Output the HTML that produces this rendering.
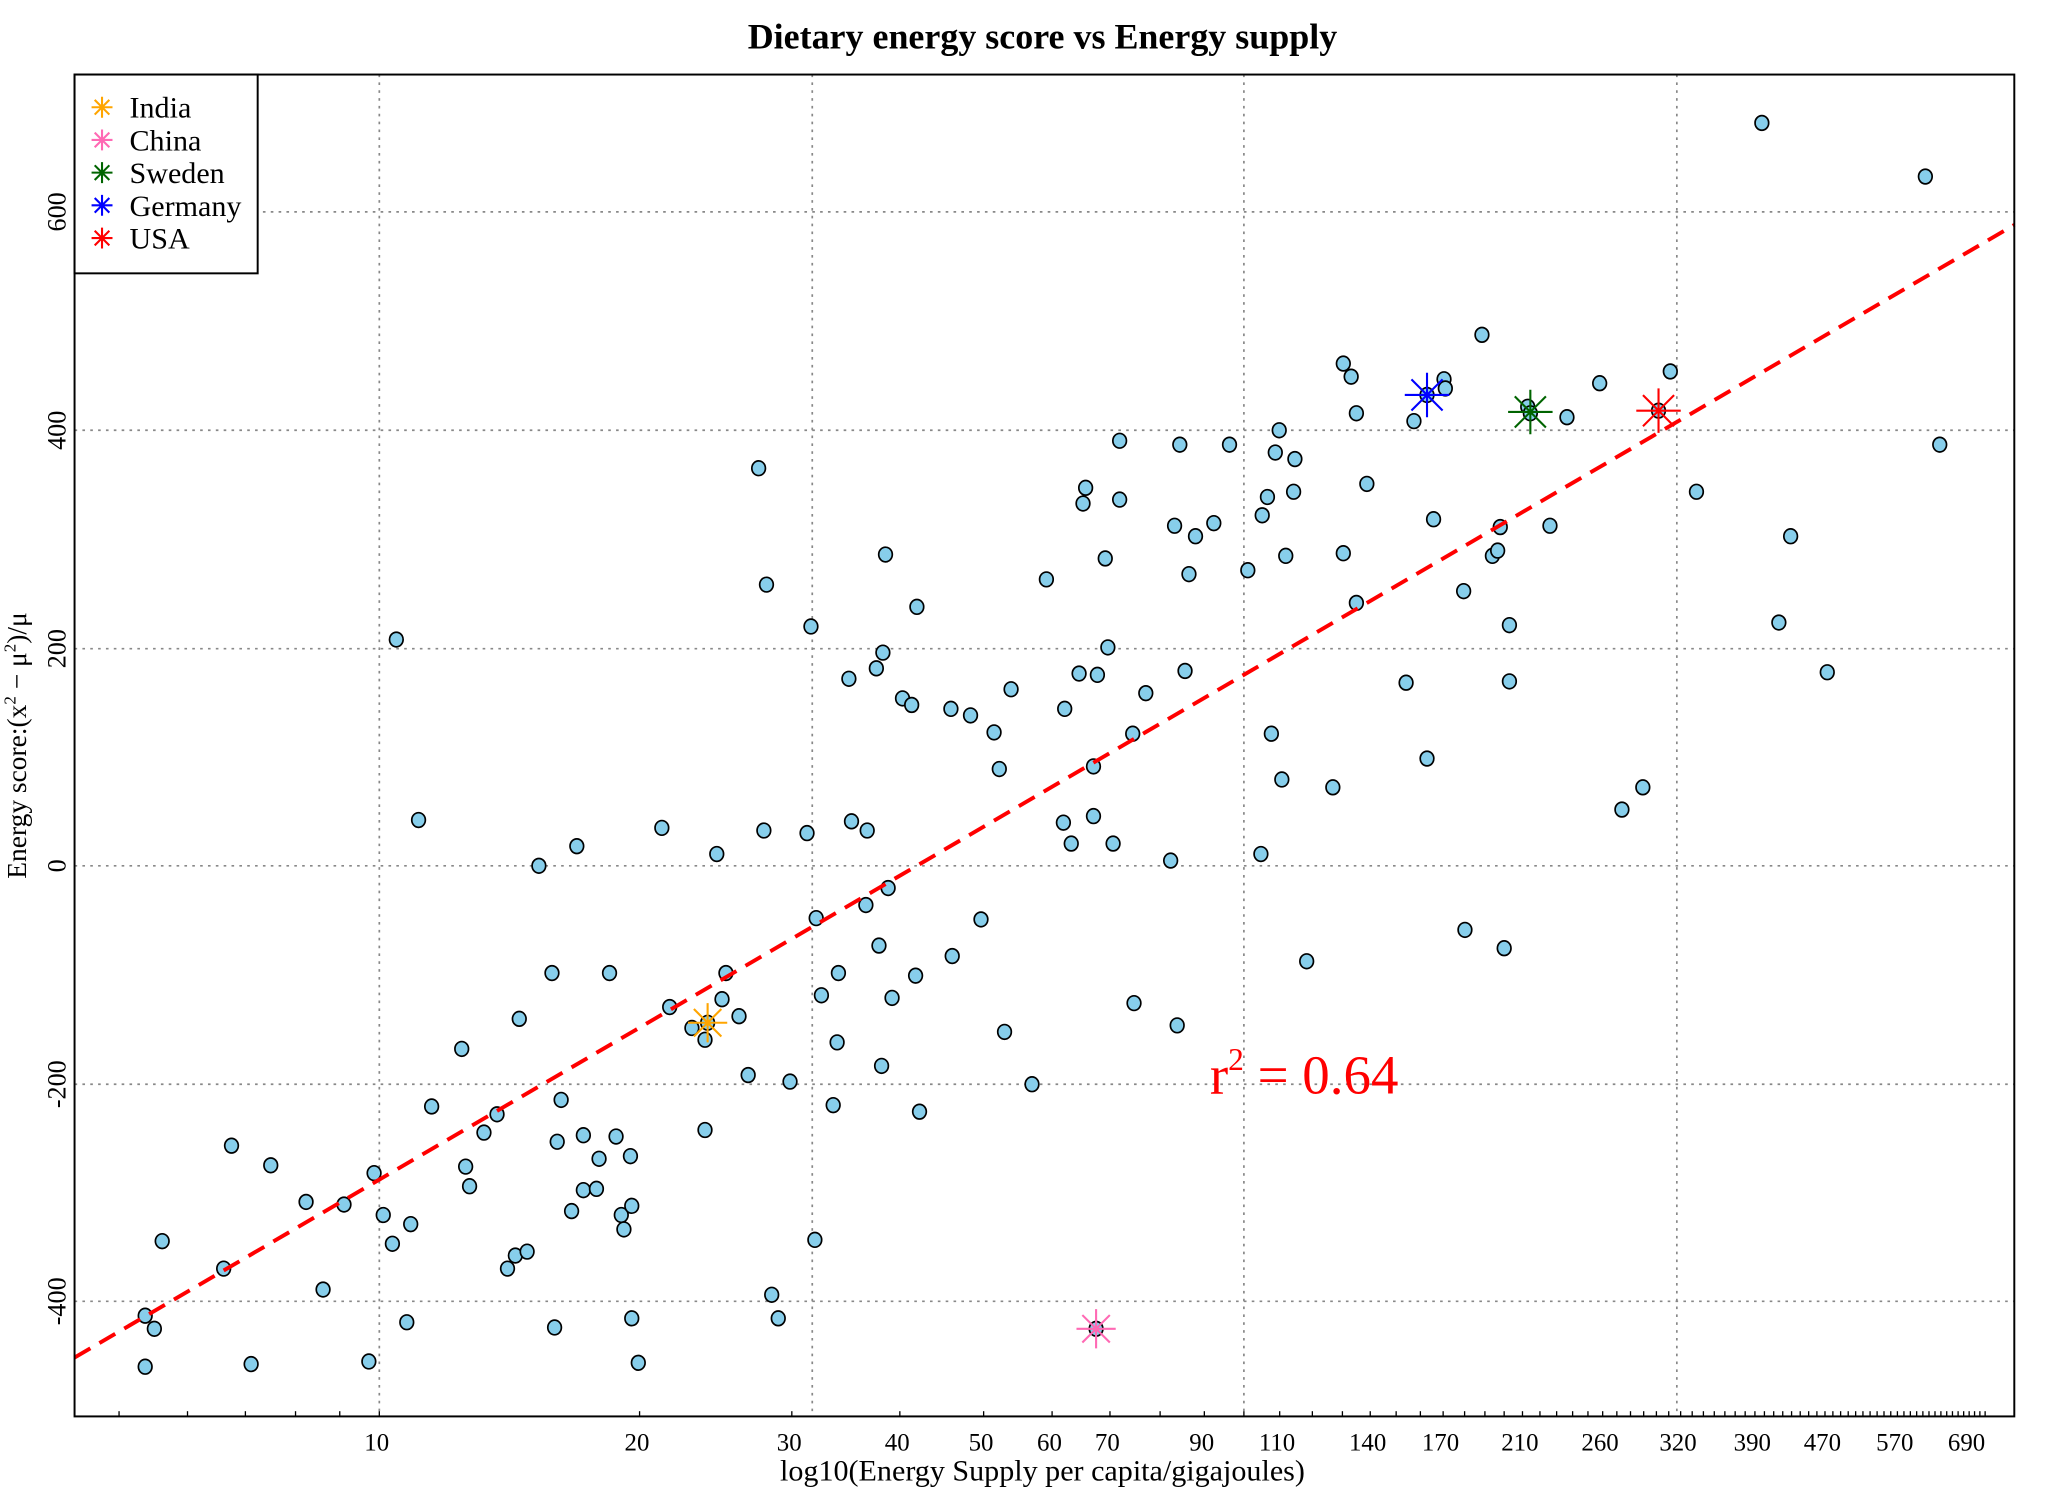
<!DOCTYPE html>
<html><head><meta charset="utf-8"><style>
html,body{margin:0;padding:0;background:#fff;}
svg{display:block;}
text{font-family:"Liberation Serif",serif;}
</style></head><body>
<svg id="s" width="2047" height="1489" viewBox="0 0 1565 1138.5" preserveAspectRatio="none" xmlns="http://www.w3.org/2000/svg">
<rect width="1565" height="1138.5" fill="#fff"/>
<text x="797" y="37" text-anchor="middle" font-size="27.5" font-weight="bold">Dietary energy score vs Energy supply</text>
<g stroke="#888" stroke-width="1.3" stroke-dasharray="2,4" fill="none">
<line x1="290" y1="57" x2="290" y2="1083"/>
<line x1="621" y1="57" x2="621" y2="1083"/>
<line x1="951" y1="57" x2="951" y2="1083"/>
<line x1="1282" y1="57" x2="1282" y2="1083"/>
<line x1="57" y1="162" x2="1540" y2="162"/>
<line x1="57" y1="329" x2="1540" y2="329"/>
<line x1="57" y1="496" x2="1540" y2="496"/>
<line x1="57" y1="662" x2="1540" y2="662"/>
<line x1="57" y1="829" x2="1540" y2="829"/>
<line x1="57" y1="995" x2="1540" y2="995"/>
</g>
<g id="ticks" stroke="#000" stroke-width="1"></g>
<g id="pts"></g>
<line x1="57" y1="1038" x2="1540" y2="172" stroke="#f00" stroke-width="3" stroke-dasharray="14,8"/>
<g id="stars"></g>
<rect x="57" y="57" width="1483" height="1026" fill="none" stroke="#000" stroke-width="1.5"/>
<rect x="57" y="57" width="140" height="152" fill="#fff" stroke="#000" stroke-width="1.5"/>
<g id="lstars"></g>
<g font-size="23">
<text x="99" y="90">India</text>
<text x="99" y="115">China</text>
<text x="99" y="140">Sweden</text>
<text x="99" y="165">Germany</text>
<text x="99" y="190">USA</text>
</g>
<g font-size="20" text-anchor="middle">
<text transform="translate(50,162) rotate(-90)">600</text>
<text transform="translate(50,329) rotate(-90)">400</text>
<text transform="translate(50,496) rotate(-90)">200</text>
<text transform="translate(50,662) rotate(-90)">0</text>
<text transform="translate(50,829) rotate(-90)">-200</text>
<text transform="translate(50,995) rotate(-90)">-400</text>
<text transform="translate(20,570) rotate(-90)" font-size="21">Energy score:(x<tspan dy="-8" font-size="13">2</tspan><tspan dy="8"> − μ</tspan><tspan dy="-8" font-size="13">2</tspan><tspan dy="8">)/μ</tspan></text>
</g>
<g font-size="19" text-anchor="middle" id="xl"></g>
<text x="797" y="1132" text-anchor="middle" font-size="23">log10(Energy Supply per capita/gigajoules)</text>
<text x="925" y="836" font-size="42" fill="#f00">r<tspan dy="-18" font-size="24">2</tspan><tspan dy="18"> = 0.64</tspan></text>
</svg>
<script>
var NS="http://www.w3.org/2000/svg";
function el(p,t,a){var e=document.createElementNS(NS,t);for(var k in a)e.setAttribute(k,a[k]);p.appendChild(e);return e;}
var P=[[111,1045],[111,1006],[118,1016],[124,949],[171,970],[177,876],[192,1043],[207,891],[234,919],[247,986],[263,921],[282,1041],[286,897],[293,929],[300,951],[303,489],[311,1011],[314,936],[320,627],[330,846],[353,802],[356,892],[359,907],[370,866],[380,852],[388,970],[394,960],[397,779],[403,957],[412,662],[422,744],[424,1015],[426,873],[429,841],[437,926],[441,647],[446,868],[446,910],[456,909],[458,886],[466,744],[471,869],[475,929],[477,940],[482,884],[483,922],[483,1008],[488,1042],[506,633],[512,770],[529,786],[539,795],[539,864],[541,782],[548,653],[552,764],[555,744],[565,777],[572,822],[580,358],[584,635],[586,447],[590,990],[595,1008],[604,827],[617,637],[620,479],[624,702],[623,948],[628,761],[637,845],[640,797],[641,744],[649,519],[651,628],[662,692],[663,635],[670,511],[672,723],[674,815],[675,499],[677,424],[679,679],[682,763],[690,534],[697,539],[700,746],[701,464],[703,850],[727,542],[728,731],[742,547],[750,703],[760,560],[764,588],[768,789],[773,527],[789,829],[800,443],[813,629],[814,542],[819,645],[825,515],[828,385],[830,373],[836,586],[836,624],[838,1016],[839,516],[845,427],[847,495],[851,645],[856,337],[856,382],[866,561],[867,767],[876,530],[895,658],[898,402],[900,784],[902,340],[906,513],[909,439],[914,410],[928,400],[940,340],[954,436],[964,653],[965,394],[969,380],[972,561],[975,346],[978,329],[980,596],[983,425],[989,376],[990,351],[999,735],[1019,602],[1027,278],[1027,423],[1033,288],[1037,461],[1037,316],[1045,370],[1075,522],[1081,322],[1091,302],[1091,580],[1096,397],[1104,290],[1105,297],[1119,452],[1120,711],[1133,256],[1141,425],[1145,421],[1147,403],[1150,725],[1154,478],[1154,521],[1168,311],[1170,316],[1185,402],[1198,319],[1223,293],[1240,619],[1256,602],[1268,314],[1277,284],[1297,376],[1347,94],[1360,476],[1369,410],[1397,514],[1472,135],[1483,340]];
var g=document.getElementById("pts");
P.forEach(function(p){el(g,"ellipse",{cx:p[0],cy:p[1],rx:5.2,ry:5.6,fill:"#87CEEB",stroke:"#000","stroke-width":1.3});});
function star(p,x,y,c,r,w){
 var d="M"+(x-r)+" "+y+"H"+(x+r)+"M"+x+" "+(y-r)+"V"+(y+r);
 var q=r*0.7;
 d+="M"+(x-q)+" "+(y-q)+"L"+(x+q)+" "+(y+q)+"M"+(x-q)+" "+(y+q)+"L"+(x+q)+" "+(y-q);
 el(p,"path",{d:d,stroke:c,"stroke-width":w,fill:"none"});
}
var st=document.getElementById("stars"),ls=document.getElementById("lstars");
star(st,541,782,"#FFA500",15,1.6);star(st,838,1016,"#FF69B4",15,1.6);star(st,1170,315,"#006400",17,1.6);star(st,1091,302,"#0000FF",17,1.6);star(st,1268,314,"#FF0000",17,1.6);
star(ls,78,82,"#FFA500",8,1.6);star(ls,78,107,"#FF69B4",8,1.6);star(ls,78,132,"#006400",8,1.6);star(ls,78,157,"#0000FF",8,1.6);star(ls,78,182,"#FF0000",8,1.6);
function X(E){return 290+661*Math.log10(E/10);}
var tk=document.getElementById("ticks");
for(var E=4;E<=720;E+=(E<10?1:10)){var x=X(E);if(x<57||x>1540)continue;el(tk,"line",{x1:x,y1:1083,x2:x,y2:1079});}
var xl=document.getElementById("xl");
[10,20,30,40,50,60,70,90,110,140,170,210,260,320,390,470,570,690].forEach(function(v){var t=el(xl,"text",{x:X(v)-2,y:1109});t.textContent=v;});
</script>
</body></html>
